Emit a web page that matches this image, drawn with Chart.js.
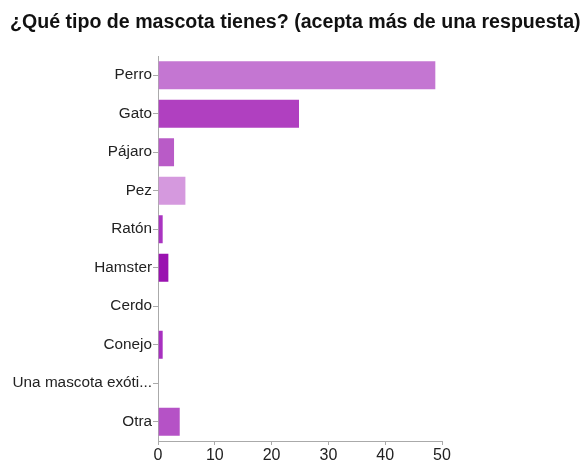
<!DOCTYPE html>
<html>
<head>
<meta charset="utf-8">
<script src="https://cdn.jsdelivr.net/npm/chart.js@4"></script>
<style>
    body { margin: 0; background: #fff; }
    #wrap { position: relative; width: 588px; height: 463px; }
    #title {
        position: absolute; left: 10px; top: 10px;
        font: bold 19.6px "Liberation Sans", Arial, sans-serif; color: #111;
        white-space: nowrap;
    }
</style>
</head>
<body>
<div id="wrap">
    <div id="title">¿Qué tipo de mascota tienes? (acepta más de una respuesta)</div>
    <canvas id="chart" width="588" height="463"></canvas>
</div>
<script>
const categories = ['Perro', 'Gato', 'Pájaro', 'Pez', 'Ratón', 'Hamster', 'Cerdo', 'Conejo', 'Una mascota exóti...', 'Otra'];
const counts = [49, 25, 3, 5, 1, 2, 0, 1, 0, 4];
const barColors = ['#c476d2', '#b040c0', '#b95bc7', '#d599de', '#aa34c1', '#9a12b0', '#b040c0', '#a830c0', '#b040c0', '#b552c6'];
const xTicks = [0, 10, 20, 30, 40, 50];

const ctx = document.getElementById('chart').getContext('2d');
new Chart(ctx, {
    type: 'bar',
    data: {
        labels: categories,
        datasets: [{
            data: counts,
            backgroundColor: barColors,
            borderColor: 'rgba(255,255,255,0.35)',
            borderWidth: 1,
            categoryPercentage: 1,
            barPercentage: 0.78
        }]
    },
    options: {
        indexAxis: 'y',
        responsive: false,
        animation: false,
        layout: { padding: { top: 56, right: 146, left: 0, bottom: 0 } },
        plugins: {
            legend: { display: false },
            tooltip: { enabled: false }
        },
        scales: {
            x: {
                min: 0,
                max: 50,
                afterBuildTicks: scale => { scale.ticks = xTicks.map(v => ({ value: v })); },
                afterFit: scale => { scale.height = 22; },
                grid: { drawOnChartArea: false, drawTicks: true, tickLength: 4, color: '#aaa' },
                border: { color: '#aaa' },
                ticks: { color: '#222', padding: 1, font: { family: 'Liberation Sans', size: 16 } }
            },
            y: {
                afterFit: scale => { scale.width = 158; },
                grid: { drawOnChartArea: false, drawTicks: true, tickLength: 5, color: '#aaa', offset: false },
                border: { color: '#aaa' },
                ticks: { color: '#222', padding: 1, font: { family: 'Liberation Sans', size: 15.3 } }
            }
        }
    }
});
</script>
</body>
</html>
